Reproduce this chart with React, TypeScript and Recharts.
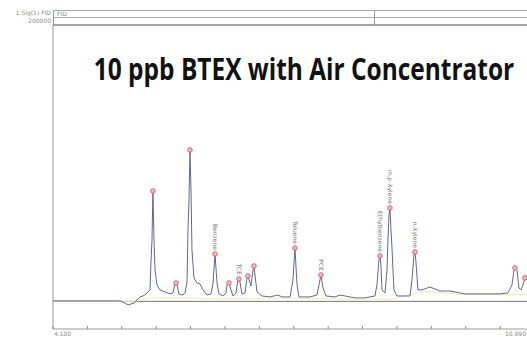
import React from "react";
import {
  ComposedChart,
  Line,
  Scatter,
  XAxis,
  YAxis,
  ReferenceLine,
} from "recharts";

// Chromatogram trace, retention time (min) and detector signal
const traceTimes = [
  4.1, 5.074, 5.147, 5.19, 5.234, 5.277, 5.306, 5.365, 5.408, 5.452, 5.481, 5.51,
  5.524, 5.539, 5.553, 5.568, 5.583, 5.612, 5.655, 5.728, 5.801, 5.844, 5.873,
  5.888, 5.902, 5.931, 5.975, 6.019, 6.048, 6.062, 6.077, 6.091, 6.106, 6.12,
  6.149, 6.193, 6.237, 6.28, 6.338, 6.397, 6.426, 6.455, 6.484, 6.513, 6.571,
  6.615, 6.629, 6.658, 6.687, 6.716, 6.76, 6.789, 6.803, 6.818, 6.847, 6.891,
  6.92, 6.934, 6.949, 6.978, 7.007, 7.022, 7.036, 7.065, 7.138, 7.254, 7.37,
  7.428, 7.545, 7.588, 7.617, 7.647, 7.676, 7.835, 7.937, 7.966, 7.995, 8.024,
  8.068, 8.199, 8.272, 8.344, 8.49, 8.635, 8.78, 8.809, 8.838, 8.853, 8.867,
  8.882, 8.926, 8.955, 8.969, 8.984, 8.998, 9.013, 9.027, 9.042, 9.056, 9.1,
  9.289, 9.318, 9.347, 9.362, 9.376, 9.405, 9.463, 9.58, 9.725, 9.87, 9.943,
  10.088, 10.306, 10.597, 10.713, 10.772, 10.801, 10.815, 10.844, 10.873, 10.902,
  10.931, 10.96, 10.99,
];
const traceSignal = [
  300, 300, -1200, -2600, -1900, -1200, 300, 3200, 3900, 5400, 6800, 8300,
  28500, 44400, 79900, 44400, 22700, 11900, 8300, 6800, 5400, 6100, 12600,
  13300, 12600, 5400, 4600, 6100, 14000, 51700, 73400, 109600, 80600, 37200,
  16900, 13300, 12600, 8300, 4600, 5400, 13300, 34300, 13300, 5400, 3900,
  6100, 11900, 13300, 8300, 3900, 6100, 15500, 16200, 14000, 5400, 6100,
  16900, 18400, 15500, 11100, 22700, 25600, 19100, 6800, 3900, 3200, 4600,
  3200, 3200, 15500, 38600, 11900, 3200, 3200, 4600, 11900, 19100, 9700,
  3900, 3200, 4600, 3900, 2500, 2500, 3900, 11900, 30000, 32900, 26300,
  8300, 6100, 22700, 44400, 62500, 67600, 51700, 39400, 22700, 8300, 3900,
  3900, 15500, 33600, 35800, 28500, 8300, 8300, 10400, 7500, 7500, 6800,
  5400, 5400, 5400, 6100, 11900, 22700, 24200, 22700, 9700, 8300,
  11900, 17000, 15500,
];

// Integrator baseline
const baseTimes = [4.1, 5.3, 5.5, 6.0, 6.5, 7.0, 7.5, 8.0, 8.5, 9.0, 9.4, 9.5, 10.0, 10.99];
const baseSignal = [0, 0, 2500, 2500, 2000, 2000, 2500, 2000, 1500, 1500, 6000, 7500, 5000, 5000];

// Detected peaks
const peakTimes = [5.553, 5.888, 6.091, 6.455, 6.658, 6.803, 6.934, 7.022, 7.617, 7.995, 8.853, 8.998, 9.362, 10.815, 10.96];
const peakHeights = [79900, 13300, 109600, 34300, 13300, 16200, 18400, 25600, 38600, 19100, 32900, 67600, 35800, 24200, 17000];
const peakNames = ["", "", "", "Benzene", "", "TCE", "", "", "Toluene", "PCE", "Ethylbenzene", "m,p-Xylene", "o-Xylene", "", ""];

const xTicks = [4.1, 4.6, 5.1, 5.6, 6.1, 6.6, 7.1, 7.6, 8.1, 8.6, 9.1, 9.6, 10.1, 10.6, 10.99];
const yTicks = [-20000, 200000];

const trace = traceTimes.map((t, i) => ({ t, v: traceSignal[i] }));
const baseline = baseTimes.map((t, i) => ({ t, v: baseSignal[i] }));
const peaks = peakTimes.map((t, i) => ({ t, v: peakHeights[i], name: peakNames[i] }));

const GRAY = "#8a8a8a";

function PeakMarker(props: any) {
  const { cx, cy, payload } = props;
  if (cx == null || cy == null) return null;
  return (
    <g>
      <circle cx={cx} cy={cy} r={2.3} fill="#f3b8c0" stroke="#c8505e" strokeWidth={0.8} />
      {payload.name ? (
        <text
          x={cx}
          y={cy - 4}
          transform={`rotate(90 ${cx} ${cy - 4})`}
          textAnchor="end"
          dy={2}
          fontSize={6}
          fontFamily="DejaVu Sans, sans-serif"
          fill="#7a7a7a"
        >
          {payload.name}
        </text>
      ) : null}
    </g>
  );
}

function XTick(props: any) {
  const { x, y, payload, index } = props;
  const last = index === xTicks.length - 1;
  return (
    <g>
      {!last && <line x1={x} x2={x} y1={y - 3} y2={y} stroke={GRAY} strokeWidth={1} />}
      {index === 0 && (
        <text x={x + 1} y={y + 7} fontSize={6} fill={GRAY} fontFamily="DejaVu Sans, sans-serif">
          4.100
        </text>
      )}
      {last && (
        <text x={x - 1} y={y + 7} textAnchor="end" fontSize={6} fill={GRAY} fontFamily="DejaVu Sans, sans-serif">
          {payload.value.toFixed(3)}
        </text>
      )}
    </g>
  );
}

function YTick(props: any) {
  const { x, y, payload } = props;
  return (
    <text x={x} y={y - 2} textAnchor="end" fontSize={6} fill={GRAY} fontFamily="DejaVu Sans, sans-serif">
      {String(payload.value)}
    </text>
  );
}

export default function App() {
  return (
    <div style={{ position: "fixed", left: 0, top: 0, width: 527, height: 337, background: "#fff" }}>
      <ComposedChart width={527} height={337} margin={{ top: 25, right: 0, left: 0, bottom: 0 }}>
        <XAxis
          dataKey="t"
          type="number"
          domain={[4.1, 10.99]}
          ticks={xTicks}
          interval={0}
          allowDataOverflow
          height={8}
          tickLine={false}
          tickSize={0}
          tickMargin={0}
          axisLine={{ stroke: "#999" }}
          tick={<XTick />}
        />
        <YAxis
          dataKey="v"
          type="number"
          domain={[-20000, 200000]}
          ticks={yTicks}
          allowDataOverflow
          width={53}
          tickLine={false}
          tickSize={0}
          tickMargin={2}
          axisLine={{ stroke: "#999" }}
          tick={<YTick />}
        />
        <ReferenceLine y={0} stroke="#777" strokeWidth={1} />
        <Line
          data={baseline}
          dataKey="v"
          type="linear"
          stroke="#f0eabb"
          strokeWidth={1}
          dot={false}
          isAnimationActive={false}
        />
        <Line
          data={trace}
          dataKey="v"
          type="linear"
          stroke="#626a8a"
          strokeWidth={1}
          dot={false}
          isAnimationActive={false}
        />
        <Scatter data={peaks} dataKey="v" shape={<PeakMarker />} isAnimationActive={false} />
      </ComposedChart>
      <svg
        width={527}
        height={337}
        style={{ position: "absolute", left: 0, top: 0, pointerEvents: "none" }}
      >
        <line x1={53} x2={527} y1={10.5} y2={10.5} stroke="#aaa" />
        <line x1={53} x2={527} y1={17.5} y2={17.5} stroke="#aaa" />
        <line x1={53} x2={527} y1={25} y2={25} stroke="#888" strokeWidth={1.5} />
        <line x1={53.5} x2={53.5} y1={10} y2={25} stroke="#999" />
        <line x1={374.5} x2={374.5} y1={10} y2={25} stroke="#999" />
        <text x={51} y={15} textAnchor="end" fontSize={6} fill={GRAY} fontFamily="DejaVu Sans, sans-serif">
          1 Sig(1) FID
        </text>
        <text x={57} y={15.5} fontSize={6} fill={GRAY} fontFamily="DejaVu Sans, sans-serif">
          FID
        </text>
        <text
          x={304}
          y={80}
          textAnchor="middle"
          fontSize={30}
          fontWeight={700}
          fontFamily="'Open Sans', sans-serif"
          fill="#111"
          transform="translate(304 0) scale(0.815 1) translate(-304 0)"
        >
          10 ppb BTEX with Air Concentrator
        </text>
      </svg>
    </div>
  );
}
